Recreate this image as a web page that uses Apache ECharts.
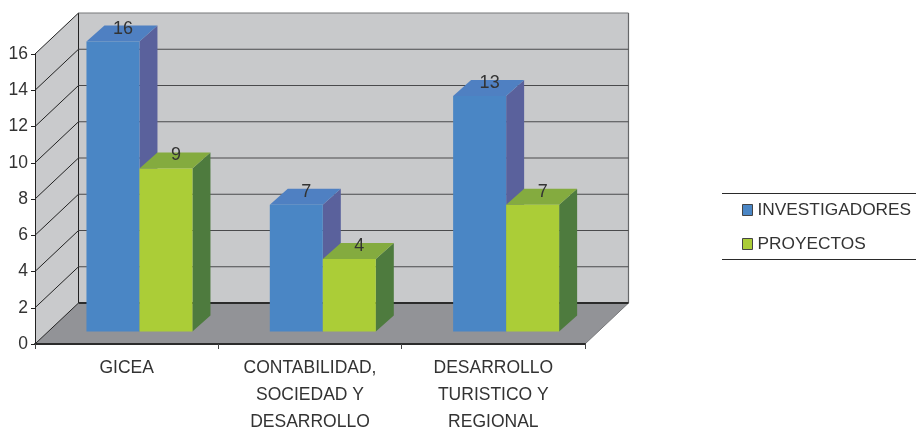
<!DOCTYPE html>
<html><head><meta charset="utf-8">
<style>html,body{margin:0;padding:0;background:#fff}#c{width:916px;height:430px}</style>
<script src="https://cdn.jsdelivr.net/npm/echarts@6/dist/echarts.min.js"></script>
</head><body><div id="c"></div>
<script>
const categories = ['GICEA', 'CONTABILIDAD,\nSOCIEDAD Y\nDESARROLLO', 'DESARROLLO\nTURISTICO Y\nREGIONAL'];
const investigadores = [16, 7, 13];
const proyectos = [9, 4, 7];
const ticks = [0, 2, 4, 6, 8, 10, 12, 14, 16];

const FONT = '"Liberation Sans", Arial, sans-serif';
const TXT = '#333333';
const WALL = [43.5, -41];   // depth of the chart box
const FRONT = [12.8, -12.4]; // where the bars' front plane sits
const DEPTH = [18, -16];     // depth of a bar
const BARW = 53 / 183.33;

function poly(points, fill, stroke, lw) {
  return { type: 'polygon', shape: { points }, style: { fill, stroke: stroke || null, lineWidth: lw || 0 } };
}
function wallsItem(params, api) {
  const v = api.value(0);
  const cs = params.coordSys;
  const l = cs.x, r = cs.x + cs.width;
  const [, y] = api.coord([0, v]);
  const [dx, dy] = WALL;
  const children = [];
  if (params.dataIndex === 0) {
    const [, t] = api.coord([0, ticks[ticks.length - 1]]);
    children.push(poly([[l + dx, t + dy], [r + dx, t + dy], [r + dx, y + dy], [l + dx, y + dy]], '#c8c9cb'));
    children.push(poly([[l, t], [l + dx, t + dy], [l + dx, y + dy], [l, y]], '#c9cacc'));
    children.push(poly([[l, y], [l + dx, y + dy], [r + dx, y + dy], [r, y]], '#929397'));
    children.push({ type: 'line', shape: { x1: r, y1: y, x2: r + dx, y2: y + dy }, style: { stroke: '#77787a', lineWidth: 1 } });
    children.push({ type: 'line', shape: { x1: r + dx, y1: t + dy, x2: r + dx, y2: y + dy }, style: { stroke: '#666769', lineWidth: 1.2 } });
    children.push({ type: 'line', shape: { x1: l + dx, y1: t + dy, x2: l + dx, y2: y + dy }, style: { stroke: '#222222', lineWidth: 1 } });
  }
  const isFloor = v === 0, isTop = v === ticks[ticks.length - 1];
  children.push({ type: 'line', shape: { x1: l, y1: y, x2: l + dx, y2: y + dy }, style: { stroke: '#222222', lineWidth: 1 } });
  children.push({ type: 'line', shape: { x1: l + dx, y1: y + dy, x2: r + dx, y2: y + dy },
    style: { stroke: isFloor ? '#2b2b2b' : (isTop ? '#77787a' : '#4a4a4c'), lineWidth: isFloor ? 2 : 1.1 } });
  return { type: 'group', children };
}
function barItem(side, cols) {
  return function (params, api) {
    const i = api.value(0), v = api.value(1);
    const p0 = api.coord([i, 0]), p1 = api.coord([i, v]);
    const w = api.size([1, 0])[0] * BARW;
    const x0 = p0[0] + FRONT[0] + (side < 0 ? -w : 0), x1 = x0 + w;
    const yb = p0[1] + FRONT[1], yt = p1[1] + FRONT[1];
    const [dx, dy] = DEPTH;
    return { type: 'group', children: [
      poly([[x1, yt], [x1 + dx, yt + dy], [x1 + dx, yb + dy], [x1, yb]], cols.side),
      poly([[x0, yt], [x0 + dx, yt + dy], [x1 + dx, yt + dy], [x1, yt]], cols.top),
      poly([[x0, yt], [x1, yt], [x1, yb], [x0, yb]], cols.front),
      { type: 'text', style: { text: String(v), x: (x0 + x1) / 2 + 10, y: yt + dy + 3, align: 'center', verticalAlign: 'middle',
          fill: TXT, font: '18px ' + FONT } }
    ] };
  };
}
const BLUE = { front: '#4a86c5', top: '#4f80c2', side: '#5a619c' };
const GREEN = { front: '#abcd37', top: '#84ab3f', side: '#4e7b3e' };

const chart = echarts.init(document.getElementById('c'), null, { renderer: 'canvas' });
chart.setOption({
  animation: false,
  backgroundColor: '#ffffff',
  grid: { left: 35, top: 54, width: 550, height: 290, containLabel: false, outerBoundsMode: 'none' },
  xAxis: { type: 'category', data: categories, z: 10,
    axisLine: { show: true, lineStyle: { color: '#2b2b2b', width: 2 } },
    axisTick: { show: true, alignWithLabel: false, length: 5, lineStyle: { color: '#444', width: 1 } },
    axisLabel: { color: TXT, fontFamily: FONT, fontSize: 17.5, lineHeight: 27, margin: 11, interval: 0, hideOverlap: false },
    splitLine: { show: false } },
  yAxis: { type: 'value', min: 0, max: 16, interval: 2, z: 10,
    axisLine: { show: true, lineStyle: { color: '#222', width: 1 } },
    axisTick: { show: true, length: 4, lineStyle: { color: '#222', width: 1 } },
    axisLabel: { color: TXT, fontFamily: FONT, fontSize: 17.5, margin: 7, padding: [8, 0, 0, 0] },
    splitLine: { show: false } },
  legend: { orient: 'vertical', left: 742, top: 200, padding: 0, itemWidth: 10, itemHeight: 11, itemGap: 14,
    data: ['INVESTIGADORES', 'PROYECTOS'], icon: 'rect', selectedMode: false,
    textStyle: { color: TXT, fontFamily: FONT, fontSize: 17.3, lineHeight: 20 },
    itemStyle: { borderColor: '#444', borderWidth: 1 } },
  tooltip: { show: false },
  graphic: [
    { type: 'line', shape: { x1: 722, y1: 193.5, x2: 916, y2: 193.5 }, style: { stroke: '#2a2a2a', lineWidth: 1 } },
    { type: 'line', shape: { x1: 722, y1: 259.5, x2: 916, y2: 259.5 }, style: { stroke: '#2a2a2a', lineWidth: 1 } }
  ],
  series: [
    { type: 'custom', name: 'walls', z: 1, silent: true, renderItem: wallsItem,
      encode: { y: 0 }, data: ticks.map(t => [t]) },
    { type: 'custom', name: 'INVESTIGADORES', z: 3, itemStyle: { color: BLUE.front }, renderItem: barItem(-1, BLUE),
      encode: { x: 0, y: 1 }, data: investigadores.map((v, i) => [i, v]) },
    { type: 'custom', name: 'PROYECTOS', z: 4, itemStyle: { color: GREEN.front }, renderItem: barItem(1, GREEN),
      encode: { x: 0, y: 1 }, data: proyectos.map((v, i) => [i, v]) }
  ]
});
</script></body></html>
